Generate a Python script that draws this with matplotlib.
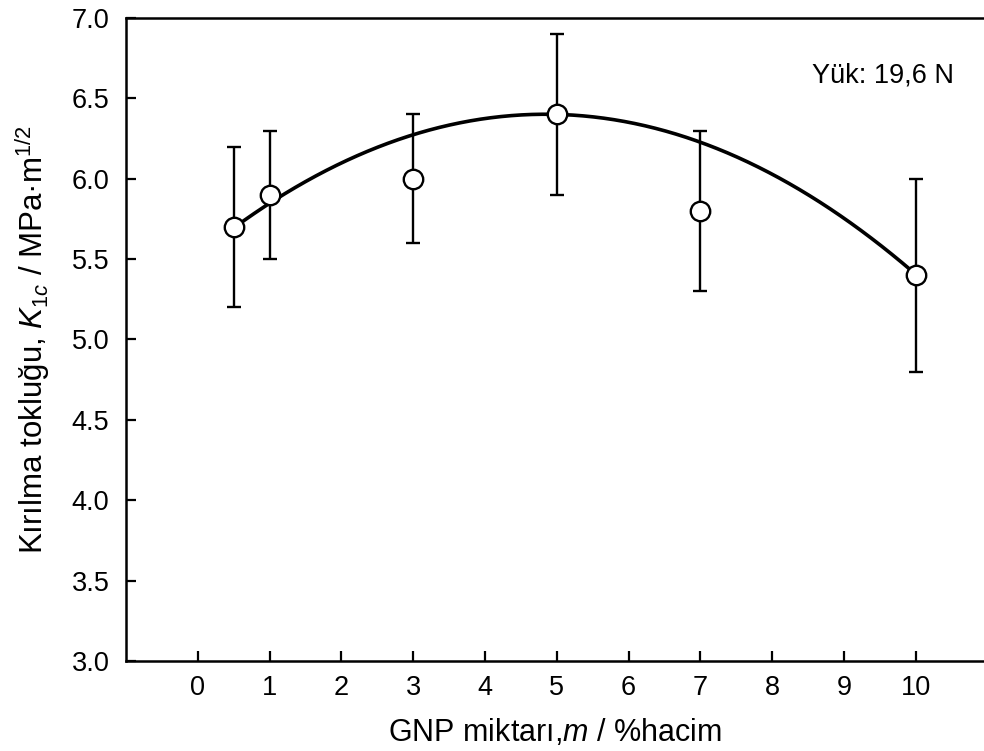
import numpy as np
import matplotlib
matplotlib.use('Agg')
import matplotlib.pyplot as plt

plt.rcParams['font.family'] = ['Liberation Sans', 'DejaVu Sans']
plt.rcParams['mathtext.fontset'] = 'custom'
plt.rcParams['mathtext.rm'] = 'Liberation Sans'
plt.rcParams['mathtext.it'] = 'Liberation Sans:italic'

# measured points
gnp = [0.5, 1, 3, 5, 7, 10]
k1c = [5.7, 5.9, 6.0, 6.4, 5.8, 5.4]
err = [0.5, 0.4, 0.4, 0.5, 0.5, 0.6]

# points
curve_x = [0.5, 3, 5, 7, 10]
curve_y = [5.7, 6.26, 6.4, 6.24, 5.4]

xticks = list(range(0, 11))
yticks = [3.0, 3.5, 4.0, 4.5, 5.0, 5.5, 6.0, 6.5, 7.0]

fig = plt.figure(figsize=(9.84, 7.51), dpi=100)
ax = fig.add_axes([0.128, 0.12, 0.872, 0.856])

# quadratic trend line
coef = np.polyfit(curve_x, curve_y, 2)
xs = np.linspace(min(curve_x), max(curve_x), 200)
ax.plot(xs, np.polyval(coef, xs), color='black', lw=2.6, zorder=2)

ax.errorbar(gnp, k1c, yerr=err, fmt='none', ecolor='black', elinewidth=1.7,
            capsize=5, capthick=1.7, zorder=1)
ax.plot(gnp, k1c, 'o', ms=14, mfc='white', mec='black', mew=1.7, zorder=3)

ax.set_xlim(-1, 10.95)
ax.set_ylim(3.0, 7.0)
ax.set_xticks(xticks)
ax.set_yticks(yticks)
ax.set_yticklabels(['%.1f' % v for v in yticks])

ax.spines['right'].set_visible(False)
for s in ['left', 'bottom', 'top']:
    ax.spines[s].set_linewidth(1.8)
ax.tick_params(direction='in', length=7, width=1.6, labelsize=19.5)
ax.tick_params(axis='y', pad=12)
ax.tick_params(axis='x', pad=10)

ax.set_xlabel('GNP miktarı,$m$ / %hacim', fontsize=22, labelpad=12)
ax.set_ylabel('Kırılma tokluğu, $K_{1c}$ / MPa·m$^{1/2}$', fontsize=22.5, labelpad=14)

ax.text(9.54, 6.64, 'Yük: 19,6 N', fontsize=19.5, ha='center', va='center')

fig.savefig('out.png', dpi=100)
